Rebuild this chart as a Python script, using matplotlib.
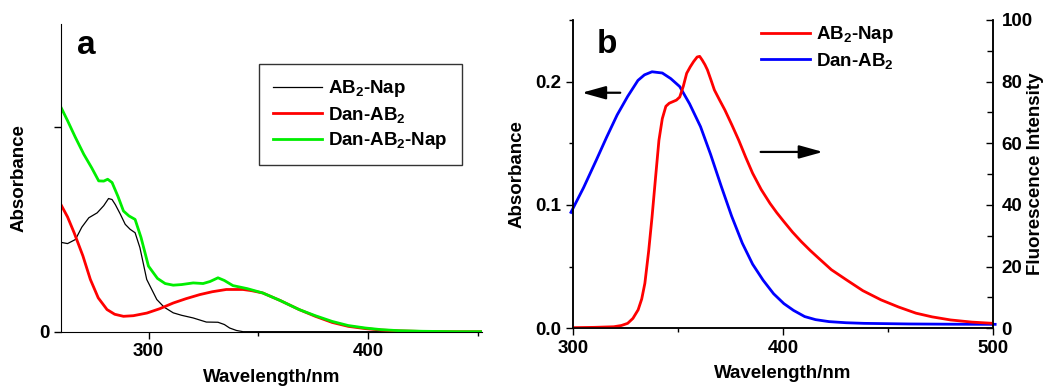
import matplotlib
matplotlib.use('Agg')
import matplotlib.pyplot as plt

plt.rcParams['font.family'] = 'Liberation Sans'
plt.rcParams['font.weight'] = 'bold'
plt.rcParams['axes.labelweight'] = 'bold'
plt.rcParams['font.size'] = 13.5
plt.rcParams['mathtext.fontset'] = 'custom'
plt.rcParams['mathtext.rm'] = 'Liberation Sans:bold'
plt.rcParams['mathtext.default'] = 'rm'

# panel a: UV-vis absorbance (arbitrary units, unlabeled tick at 1.0)
wl_black = [259.5, 263, 266.6, 269.5, 272.7, 276.5, 279.5, 281.7, 283.3, 284.8, 287, 289.3,
            291.5, 293.8, 296, 299.1, 303.7, 307, 311.2, 315, 320.3, 326.3, 331.6, 334.5,
            336.9, 340, 343, 360, 400, 452]
abs_black = [0.437, 0.43, 0.45, 0.51, 0.556, 0.58, 0.615, 0.65, 0.645, 0.62, 0.575, 0.524,
             0.50, 0.483, 0.41, 0.255, 0.157, 0.12, 0.092, 0.08, 0.067, 0.047, 0.046, 0.035,
             0.018, 0.006, 0.0, 0.0, 0.0, 0.0]

wl_red = [259.5, 263, 266, 270, 273.4, 277, 281, 284.5, 288.5, 293, 299.2, 305, 311.2, 317,
          323.3, 329, 335.4, 343, 347, 352, 360, 368.6, 376, 383.7, 391, 398.8, 406, 414,
          425, 440, 452]
abs_red = [0.63, 0.56, 0.483, 0.37, 0.255, 0.165, 0.108, 0.085, 0.075, 0.078, 0.091, 0.112,
           0.14, 0.161, 0.181, 0.195, 0.206, 0.206, 0.2, 0.189, 0.152, 0.108, 0.075, 0.045,
           0.026, 0.015, 0.008, 0.004, 0.001, 0.0, 0.0]

wl_green = [259.5, 263, 266.5, 270.4, 274, 277.2, 279.5, 281.3, 283.3, 286, 288.5, 291,
            293.8, 296.5, 299.9, 304, 307.5, 311.2, 315, 320.3, 324.8, 328, 331.6, 334.5,
            338.4, 345, 352, 360, 368.6, 376, 383.7, 391, 398.8, 406, 414, 425, 440, 452]
abs_green = [1.106, 1.03, 0.95, 0.866, 0.8, 0.736, 0.735, 0.744, 0.728, 0.66, 0.589, 0.565,
             0.548, 0.46, 0.32, 0.26, 0.235, 0.227, 0.23, 0.238, 0.235, 0.245, 0.263, 0.25,
             0.225, 0.21, 0.189, 0.152, 0.108, 0.078, 0.05, 0.03, 0.018, 0.01, 0.005, 0.002,
             0.0, 0.0]

# panel b: absorbance of Dan-AB2 (left axis) and fluorescence of AB2-Nap (right axis)
wl_blue = [299, 305, 311.1, 316, 321, 326, 330.9, 334, 337.6, 342.5, 346.5, 350.8, 355.5,
           360.7, 365.5, 370.6, 375.5, 380.6, 385.5, 390.5, 395.5, 400.4, 405, 410.3, 415.5,
           421.9, 430, 438.5, 460, 480, 501]
abs_blue = [0.094, 0.114, 0.1365, 0.155, 0.173, 0.188, 0.201, 0.2055, 0.208, 0.207, 0.2025,
            0.196, 0.182, 0.1635, 0.141, 0.115, 0.091, 0.069, 0.052, 0.039, 0.028, 0.020,
            0.0145, 0.0095, 0.007, 0.0054, 0.0045, 0.004, 0.0035, 0.0033, 0.0032]

wl_fl = [300, 310, 319.4, 323, 326, 328.5, 331, 332.7, 334.2, 336, 337.6, 339.3, 340.9,
         342.5, 344.2, 345.8, 347.5, 349.2, 350.8, 352.5, 354.1, 355.8, 357.4, 359.1, 360.3,
         361.5, 362.8, 364, 365.7, 367.3, 369.8, 372.3, 375.6, 378.9, 382.2, 385.5, 389.6,
         393.8, 397, 400.4, 404.5, 408.7, 413, 417, 423, 430.2, 438, 446.7, 455, 463.3, 471,
         479.8, 490, 500]
fl_red = [0.2, 0.3, 0.5, 0.9, 1.6, 3.2, 6, 9.5, 14.6, 25, 36, 49, 61, 68, 72, 73, 73.5,
          74, 75, 78.5, 82.7, 84.8, 86.5, 88, 88.2, 87, 85.5, 83.8, 80.5, 77.3, 74, 70.8,
          66, 61, 55.5, 50.3, 45, 40.5, 37.5, 34.6, 31.2, 28.1, 25.2, 22.7, 19, 15.7, 12.2,
          9.2, 6.9, 4.9, 3.7, 2.7, 2.0, 1.6]

fig = plt.figure(figsize=(10.44, 3.91), dpi=100)
arrow = dict(arrowstyle='-|>,head_length=0.9,head_width=0.25', color='black', lw=1.6,
             mutation_scale=16)

# ---- panel a
ax1 = fig.add_axes([0.0584, 0.1517, 0.4033, 0.786])
ax1.plot(wl_black, abs_black, color='black', lw=0.9, label='AB$_2$-Nap')
ax1.plot(wl_red, abs_red, color='#ff0000', lw=2, label='Dan-AB$_2$')
ax1.plot(wl_green, abs_green, color='#00ee00', lw=2, label='Dan-AB$_2$-Nap')
ax1.set_xlim(260, 452)
ax1.set_ylim(0, 1.5)
ax1.set_xticks([300, 400])
ax1.set_xticks([350, 450], minor=True)
ax1.set_yticks([0, 1.0])
ax1.set_yticklabels(['0', ''])
ax1.spines['top'].set_visible(False)
ax1.spines['right'].set_visible(False)
ax1.tick_params(direction='out', length=5, width=1)
ax1.tick_params(which='minor', direction='out', length=3, width=1)
ax1.set_xlabel('Wavelength/nm', labelpad=6)
ax1.set_ylabel('Absorbance')
ax1.yaxis.set_label_coords(-0.08, 0.5)
fig.text(77 / 1044, 1 - 54 / 391, 'a', fontsize=24, fontweight='bold')
leg = ax1.legend(loc='upper right', bbox_to_anchor=(0.9525, 0.871), fancybox=False,
                 edgecolor='#333333', handlelength=2.6, handletextpad=0.35,
                 labelspacing=0.3, borderpad=0.75, borderaxespad=0, framealpha=1)
leg.get_frame().set_linewidth(1.0)

# ---- panel b
ax2 = fig.add_axes([0.5489, 0.1604, 0.4023, 0.7885])
ax3 = ax2.twinx()
ax2.plot(wl_blue, abs_blue, color='#0000ff', lw=2, label='Dan-AB$_2$', clip_on=False)
ax3.plot(wl_fl, fl_red, color='#ff0000', lw=2, label='AB$_2$-Nap')
ax2.set_xlim(300, 500)
ax2.set_ylim(0, 0.25)
ax3.set_ylim(0, 100)
ax2.set_xticks([300, 400, 500])
ax2.set_xticks([350, 450], minor=True)
ax2.set_yticks([0.0, 0.1, 0.2])
ax2.set_yticklabels(['0.0', '0.1', '0.2'])
ax2.set_yticks([0.05, 0.15, 0.25], minor=True)
ax3.set_yticks([0, 20, 40, 60, 80, 100])
ax3.set_yticks([10, 30, 50, 70, 90], minor=True)
for a in (ax2, ax3):
    a.spines['top'].set_visible(False)
    for s in a.spines.values():
        s.set_linewidth(1.1)
ax2.tick_params(direction='out', length=5, width=1)
ax2.tick_params(which='minor', direction='out', length=3, width=1)
ax3.tick_params(direction='in', length=5, width=1, pad=6)
ax3.tick_params(which='minor', direction='in', length=4, width=1)
ax2.set_xlabel('Wavelength/nm', labelpad=6)
ax2.set_ylabel('Absorbance')
ax2.yaxis.set_label_coords(-0.114, 0.5)
ax3.set_ylabel('Fluorescence Intensity')
ax3.yaxis.set_label_coords(1.081, 0.5)
fig.text(597 / 1044, 1 - 53 / 391, 'b', fontsize=24, fontweight='bold')

ax2.annotate('', xy=(302.9, 0.191), xytext=(323.8, 0.191), arrowprops=arrow)
ax2.annotate('', xy=(420.3, 0.143), xytext=(388, 0.143), arrowprops=arrow)

handles = ax3.get_lines() + ax2.get_lines()
ax2.legend(handles, [h.get_label() for h in handles], loc='upper left',
           bbox_to_anchor=(0.43, 1.01), frameon=False, handlelength=2.6,
           handletextpad=0.35, labelspacing=0.3, borderaxespad=0)

fig.savefig('out.png', dpi=100)
